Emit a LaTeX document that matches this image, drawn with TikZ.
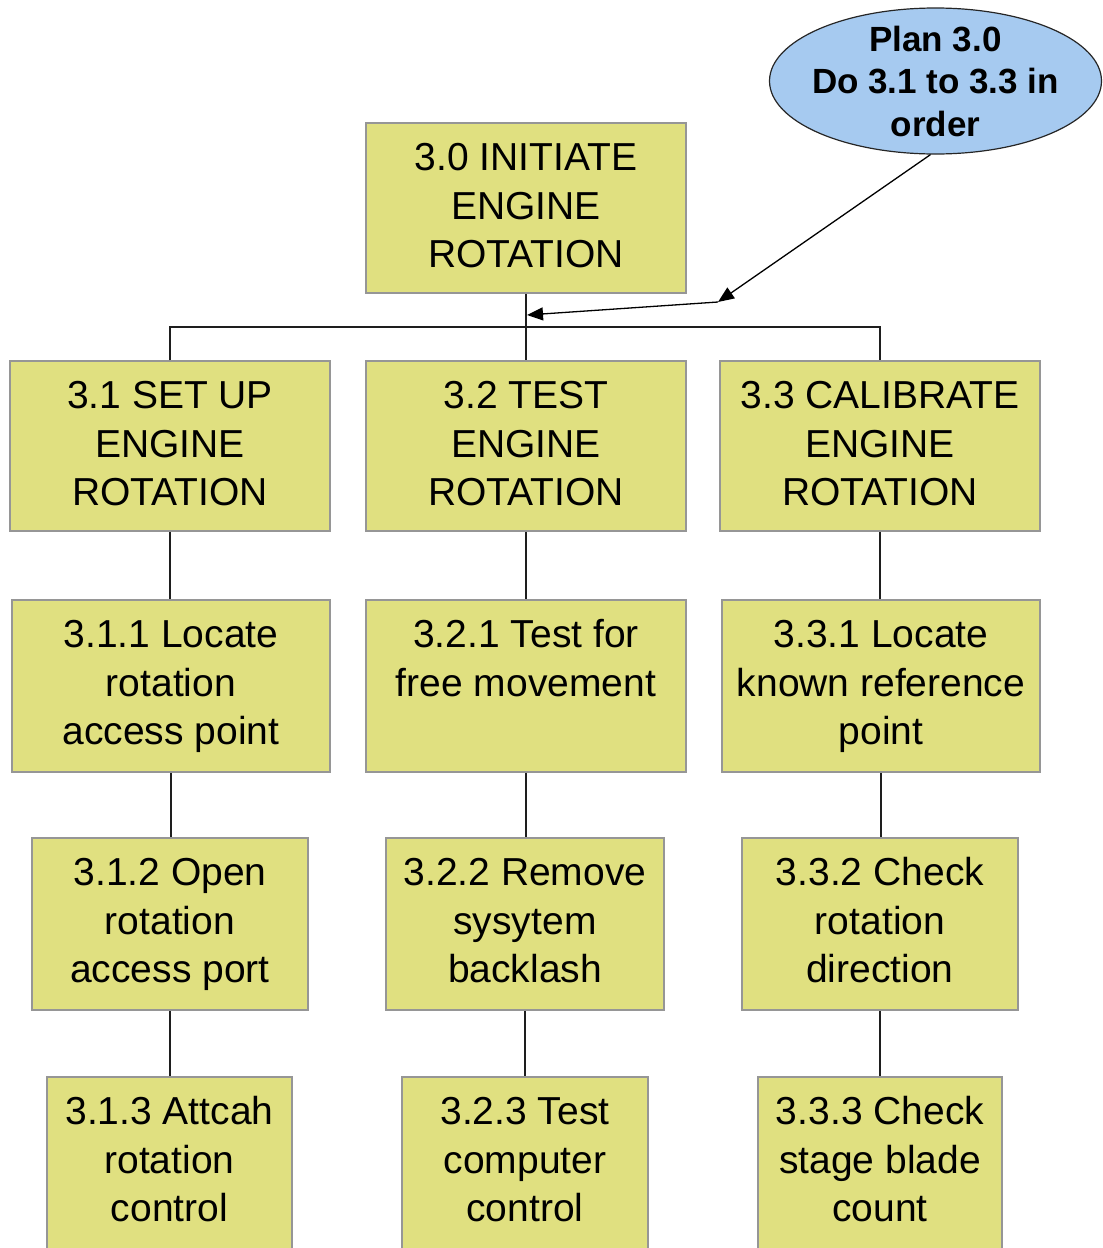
\documentclass[tikz,border=0pt]{standalone}
\usepackage{fontspec}
\setmainfont{Liberation Sans}
\usetikzlibrary{arrows.meta,shapes.geometric}
\definecolor{taskfill}{RGB}{224,224,128}
\definecolor{taskedge}{RGB}{150,150,150}
\definecolor{planfill}{RGB}{166,202,240}
\definecolor{wire}{RGB}{30,30,30}
% text block of a task box: width, height, lines (top aligned)
\newcommand\tasktext[3]{\parbox[c][#2pt][t]{#1pt}{\centering\fontsize{39}{48.5}\selectfont\rule{0pt}{47.6pt}#3}}
\begin{document}
\begin{tikzpicture}[x=1pt,y=-1pt,
  task/.style={draw=taskedge,fill=taskfill,line width=1.5pt,inner sep=0pt},
  plan/.style={ellipse,draw=black!85,fill=planfill,line width=1.2pt,inner sep=0pt,
    minimum width=332pt,minimum height=146pt},
  plantext/.style={font=\bfseries\fontsize{35}{42.5}\selectfont,align=center,inner sep=0pt},
  link/.style={draw=wire,line width=1.6pt},
  note/.style={draw=black,line width=1.3pt,-{Triangle[length=16pt,width=13pt]}}]
\useasboundingbox (0,0) rectangle (1103,1248);

% top task
\node[task] (n30) at (526,208) {\tasktext{320}{170}{3.0 INITIATE\\ENGINE\\ROTATION}};

% first level
\node[task] (n31) at (170,446) {\tasktext{320}{170}{3.1 SET UP\\ENGINE\\ROTATION}};
\node[task] (n32) at (526,446) {\tasktext{320}{170}{3.2 TEST\\ENGINE\\ROTATION}};
\node[task] (n33) at (880,446) {\tasktext{320}{170}{3.3 CALIBRATE\\ENGINE\\ROTATION}};

% second level
\node[task] (n311) at (171,686) {\tasktext{318}{172}{3.1.1 Locate\\rotation\\access point}};
\node[task] (n321) at (526,686) {\tasktext{320}{172}{3.2.1 Test for\\free movement}};
\node[task] (n331) at (881,686) {\tasktext{318}{172}{3.3.1 Locate\\known reference\\point}};

% third level
\node[task] (n312) at (170,924) {\tasktext{276}{172}{3.1.2 Open\\rotation\\access port}};
\node[task] (n322) at (525,924) {\tasktext{278}{172}{3.2.2 Remove\\sysytem\\backlash}};
\node[task] (n332) at (880,924) {\tasktext{276}{172}{3.3.2 Check\\rotation\\direction}};

% fourth level
\node[task] (n313) at (169.5,1168) {\tasktext{245}{182}{3.1.3 Attcah\\rotation\\control}};
\node[task] (n323) at (525,1168) {\tasktext{246}{182}{3.2.3 Test\\computer\\control}};
\node[task] (n333) at (880,1168) {\tasktext{244}{182}{3.3.3 Check\\stage blade\\count}};

% plan
\node[plan] (plan) at (935.5,81) {};
\node[plantext] (plantxt) at (plan.center) {Plan 3.0\\Do 3.1 to 3.3 in\\order};

% hierarchy links
\coordinate (bus) at (526,327);
\draw[link] (n30.south) -- (n32.north);
\draw[link] (n31.north) |- (bus) -| (n33.north);
\foreach \a/\b in {n31/n311,n311/n312,n312/n313,n32/n321,n321/n322,n322/n323,n33/n331,n331/n332,n332/n333}
  \draw[link] (\a.south) -- (\a.south |- \b.north);

% plan pointer
\coordinate (kink) at (718,302);
\coordinate (tip) at (527,315);
\draw[note] ([xshift=-5pt]plan.south) -- (kink);
\draw[note] (kink) -- (tip);
\end{tikzpicture}
\end{document}
